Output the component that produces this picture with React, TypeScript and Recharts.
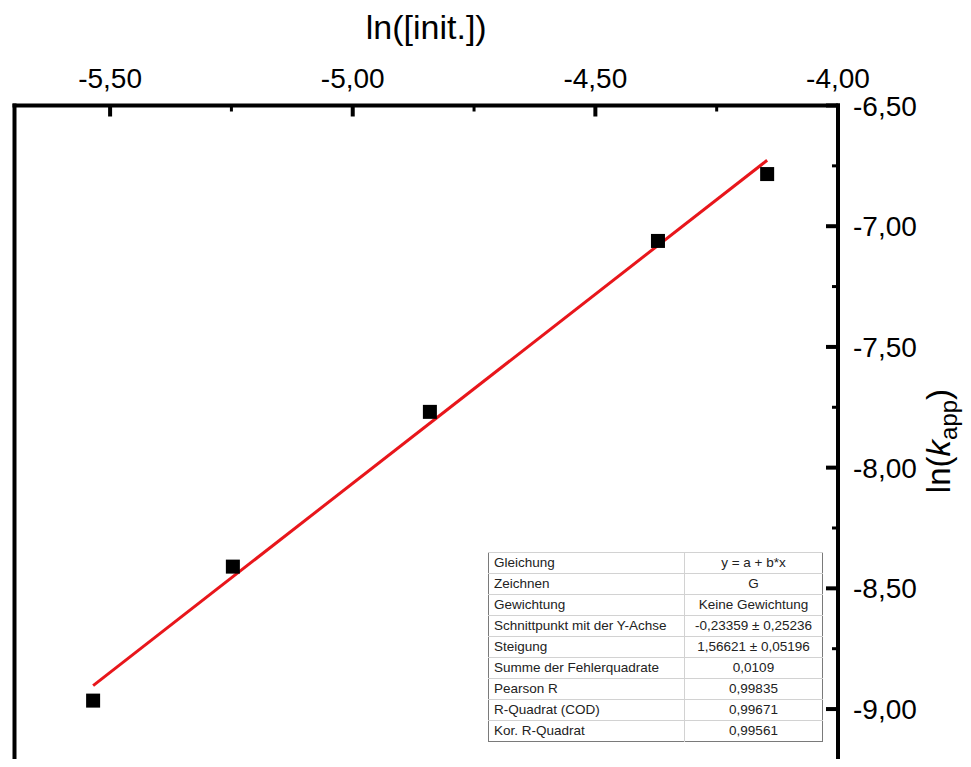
import { Scatter, ScatterChart, XAxis, YAxis } from "recharts";

// ln([init.]) and ln(k_app) of the five measurements
const lnInit = [-5.535, -5.247, -4.841, -4.371, -4.146];
const lnKapp = [-8.965, -8.41, -7.769, -7.061, -6.784];

// ends of the red fit line (y = a + b*x)
const fitX = [-5.535, -4.146];
const fitY = [-8.903, -6.727];

const xTicks = [-5.5, -5.25, -5.0, -4.75, -4.5, -4.25, -4.0];
const yTicks = [-6.5, -6.75, -7.0, -7.25, -7.5, -7.75, -8.0, -8.25, -8.5, -8.75, -9.0];

const fitLabels = [
  "Gleichung",
  "Zeichnen",
  "Gewichtung",
  "Schnittpunkt mit der Y-Achse",
  "Steigung",
  "Summe der Fehlerquadrate",
  "Pearson R",
  "R-Quadrat (COD)",
  "Kor. R-Quadrat",
];
const fitValues = [
  "y = a + b*x",
  "G",
  "Keine Gewichtung",
  "-0,23359 ± 0,25236",
  "1,56621 ± 0,05196",
  "0,0109",
  "0,99835",
  "0,99671",
  "0,99561",
];

const points = lnInit.map((x, i) => ({ x, y: lnKapp[i] }));
const fitLine = fitX.map((x, i) => ({ x, y: fitY[i] }));

const FONT = "'Liberation Sans', Arial, Helvetica, sans-serif";
const RED = "#e8161b";

const isMajor = (v: number) => Math.abs(v * 2 - Math.round(v * 2)) < 1e-6;
const fmt = (v: number) => v.toFixed(2).replace(".", ",");

const TopTick = (props: any) => {
  const { x, y, payload } = props;
  const v = payload.value as number;
  const axisY = y + 17.5;
  const major = isMajor(v);
  return (
    <g>
      <line
        x1={x}
        x2={x}
        y1={axisY}
        y2={axisY + (major ? 11 : 6)}
        stroke="#000"
        strokeWidth={major ? 4 : 3}
      />
      {major && (
        <text x={x} y={y} textAnchor="middle" fontSize={28} fontFamily={FONT} fill="#000">
          {fmt(v)}
        </text>
      )}
    </g>
  );
};

const RightTick = (props: any) => {
  const { x, y, payload } = props;
  const v = payload.value as number;
  const axisX = x - 15;
  const major = isMajor(v);
  return (
    <g>
      <line
        x1={axisX}
        x2={axisX - (major ? 12 : 6)}
        y1={y}
        y2={y}
        stroke="#000"
        strokeWidth={major ? 4 : 3}
      />
      {major && (
        <text x={x} y={y} dy="0.36em" textAnchor="start" fontSize={28} fontFamily={FONT} fill="#000">
          {fmt(v)}
        </text>
      )}
    </g>
  );
};

const YTitle = () => (
  <text
    x={950}
    y={441}
    transform="rotate(-90 950 441)"
    textAnchor="middle"
    fontSize={33}
    fontFamily={FONT}
    fill="#000"
  >
    ln(
    <tspan fontStyle="italic">k</tspan>
    <tspan fontSize={24} dy={7}>
      app
    </tspan>
    <tspan dy={-7}>)</tspan>
  </text>
);

const Square = (props: any) => {
  const { cx, cy } = props;
  return <rect x={cx - 7} y={cy - 7} width={14} height={14} fill="#000" />;
};

export default function App() {
  return (
    <div style={{ position: "relative", width: 971, height: 767, margin: -8, background: "#fff" }}>
      <ScatterChart width={971} height={767} margin={{ top: 0, right: 0, bottom: 0, left: 0 }}>
        <XAxis
          type="number"
          dataKey="x"
          orientation="top"
          height={105.5}
          domain={[-5.697, -4.0]}
          allowDataOverflow
          ticks={xTicks}
          interval={0}
          tickSize={0}
          tickMargin={17.5}
          tick={<TopTick />}
          axisLine={{ stroke: "#000", strokeWidth: 4, strokeLinecap: "square" }}
          label={{
            value: "ln([init.])",
            position: "insideTop",
            offset: 15,
            fontSize: 34,
            fontFamily: FONT,
            fill: "#000",
          }}
        />
        <YAxis
          yAxisId="l"
          type="number"
          dataKey="y"
          orientation="left"
          width={14.5}
          domain={[-9.24, -6.5]}
          allowDataOverflow
          tick={false}
          tickLine={false}
          axisLine={{ stroke: "#000", strokeWidth: 4, strokeLinecap: "square" }}
        />
        <YAxis
          yAxisId="r"
          type="number"
          dataKey="y"
          orientation="right"
          width={133}
          domain={[-9.24, -6.5]}
          allowDataOverflow
          ticks={yTicks}
          interval={0}
          tickSize={0}
          tickMargin={15}
          tick={<RightTick />}
          axisLine={{ stroke: "#000", strokeWidth: 4, strokeLinecap: "square" }}
          label={<YTitle />}
        />
        <Scatter
          yAxisId="r"
          data={fitLine}
          line={{ stroke: RED, strokeWidth: 3 }}
          shape={() => <g />}
          isAnimationActive={false}
        />
        <Scatter yAxisId="r" data={points} shape={<Square />} isAnimationActive={false} />
      </ScatterChart>
      <table
        style={{
          position: "absolute",
          left: 488,
          top: 552,
          width: 334,
          borderCollapse: "collapse",
          border: "1px solid #7a7a7a",
          fontFamily: FONT,
          fontSize: 13.5,
          color: "#222",
          background: "#fff",
          tableLayout: "fixed",
        }}
      >
        <colgroup>
          <col style={{ width: 196 }} />
          <col style={{ width: 138 }} />
        </colgroup>
        <tbody>
          {fitLabels.map((label, i) => (
            <tr key={label} style={{ height: 21 }}>
              <td
                style={{
                  padding: "0 0 0 5px",
                  borderTop: "1px solid #d2d2d2",
                  borderRight: "1px solid #d2d2d2",
                  whiteSpace: "nowrap",
                  lineHeight: "20px",
                }}
              >
                {label}
              </td>
              <td
                style={{
                  padding: 0,
                  borderTop: "1px solid #d2d2d2",
                  textAlign: "center",
                  whiteSpace: "nowrap",
                  lineHeight: "20px",
                }}
              >
                {fitValues[i]}
              </td>
            </tr>
          ))}
        </tbody>
      </table>
    </div>
  );
}
